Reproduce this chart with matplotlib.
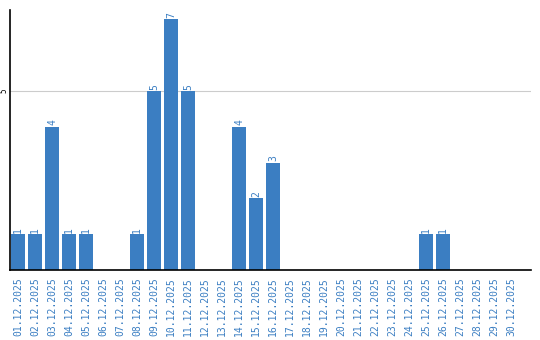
import matplotlib
matplotlib.use("Agg")
import matplotlib.pyplot as plt

dates = [f"{d:02d}.12.2025" for d in range(1, 31)]
values = [1, 1, 4, 1, 1, 0, 0, 1, 5, 7, 5, 0, 0, 4, 2, 3, 0, 0, 0, 0, 0, 0, 0, 0, 1, 1, 0, 0, 0, 0]

blue = "#3b7ec2"
fig = plt.figure(figsize=(5.4, 3.4), dpi=100)
ax = fig.add_axes([10/540, 70/340, 521/540, 260/340])
x = list(range(len(dates)))
ax.bar(x, values, width=14/17, color=blue, zorder=2)
for xi, v in zip(x, values):
    if v > 0:
        ax.text(xi, v + 0.04, str(v), rotation=90, ha="center", va="bottom",
                color=blue, fontsize=7, family="DejaVu Sans Mono")
ax.set_xlim(-8/17, 513/17)
ax.set_ylim(0, 260/35.8)
ax.set_yticks([5])
ax.set_yticklabels(["5"], rotation=90, va="center", fontsize=5.5, family="DejaVu Sans Mono")
ax.yaxis.grid(True, color="#cccccc", linewidth=0.8, zorder=0)
ax.tick_params(axis="y", length=0, pad=1)
ax.set_xticks(x)
ax.set_xticklabels(dates, rotation=90, color=blue, fontsize=7, family="DejaVu Sans Mono")
ax.tick_params(axis="x", length=0, pad=5)
for s in ["top", "right"]:
    ax.spines[s].set_visible(False)
ax.spines["left"].set_linewidth(1.2)
ax.spines["bottom"].set_linewidth(1.2)
fig.savefig("out.png", dpi=100)
